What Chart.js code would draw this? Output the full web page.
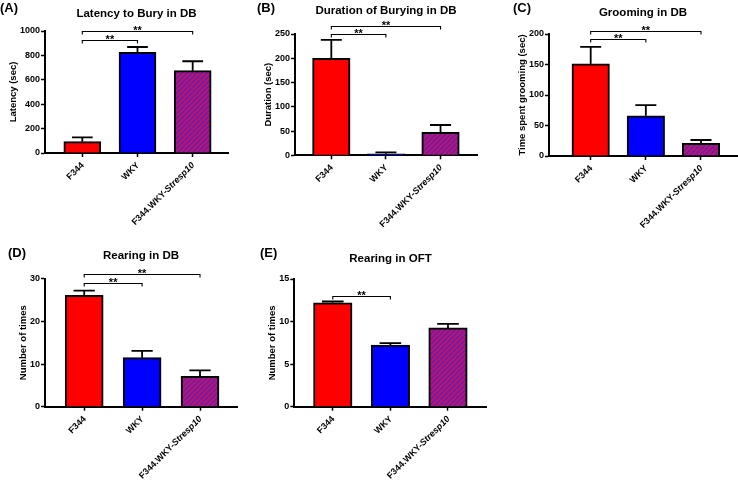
<!DOCTYPE html>
<html><head><meta charset="utf-8">
<script src="https://cdn.jsdelivr.net/npm/chart.js@4/dist/chart.umd.min.js"></script>
<style>
html,body{margin:0;padding:0;background:#fff;}
#wrap{position:relative;width:738px;height:483px;overflow:hidden;background:#fff;}
canvas{position:absolute;left:0;top:0;}
</style></head><body>
<div id="wrap">
<canvas id="cA" width="738" height="483"></canvas>
<canvas id="cB" width="738" height="483"></canvas>
<canvas id="cC" width="738" height="483"></canvas>
<canvas id="cD" width="738" height="483"></canvas>
<canvas id="cE" width="738" height="483"></canvas>
</div>
<script>
// ---------- data ----------
const categories = ['F344', 'WKY', 'F344.WKY-Stresp10'];

const latencyMean = [93, 825, 675];
const latencySem = [35, 44, 77];
const latencyTicks = [0, 200, 400, 600, 800, 1000];
const latencySig = [[0, 1, 925], [0, 2, 1000]];

const durationMean = [200, 3, 47.5];
const durationSem = [38, 3, 15];
const durationTicks = [0, 50, 100, 150, 200, 250];
const durationSig = [[0, 1, 249], [0, 2, 266]];

const groomingMean = [151, 66, 20.8];
const groomingSem = [28, 17.5, 5.4];
const groomingTicks = [0, 50, 100, 150, 200];
const groomingSig = [[0, 1, 191], [0, 2, 205]];

const rearingDBMean = [26.1, 11.5, 7.1];
const rearingDBSem = [1.1, 1.6, 1.4];
const rearingDBTicks = [0, 10, 20, 30];
const rearingDBSig = [[0, 1, 28.9], [0, 2, 31]];

const rearingOFTMean = [12.2, 7.25, 9.25];
const rearingOFTSem = [0.16, 0.22, 0.47];
const rearingOFTTicks = [0, 5, 10, 15];
const rearingOFTSig = [[0, 1, 13.0]];

// ---------- styling / layout ----------
const FONT = "'Liberation Sans', Arial, Helvetica, sans-serif";
const RED = '#ff0000', BLUE = '#0000ff';

function hatchPattern(ctx) {
  const c = document.createElement('canvas');
  c.width = 5; c.height = 5;
  const g = c.getContext('2d');
  g.fillStyle = '#d0105c';
  g.fillRect(0, 0, 5, 5);
  g.strokeStyle = '#5c22b8';
  g.lineWidth = 1.7;
  g.beginPath();
  g.moveTo(-1, 6); g.lineTo(6, -1);
  g.moveTo(-1, 1); g.lineTo(1, -1);
  g.moveTo(4, 6); g.lineTo(6, 4);
  g.stroke();
  return ctx.createPattern(c, 'repeat');
}

const Y_WIDTH = 40, X_HEIGHT = 10;

function drawPanel(id, p) {
  const canvas = document.getElementById(id);
  const ctx = canvas.getContext('2d');
  const decor = {
    id: 'decor_' + id,
    afterDraw(chart) {
      const c = chart.ctx, xs = chart.scales.x, ys = chart.scales.y, ca = chart.chartArea;
      c.save();
      // error bars (upper SEM)
      c.strokeStyle = '#000';
      c.lineWidth = 1.8;
      const capW = p.barW * 0.56;
      p.mean.forEach((m, i) => {
        const x = xs.getPixelForValue(i);
        const yb = ys.getPixelForValue(m);
        const yt = ys.getPixelForValue(m + p.sem[i]);
        c.beginPath();
        c.moveTo(x, yb); c.lineTo(x, yt);
        c.moveTo(x - capW / 2, yt); c.lineTo(x + capW / 2, yt);
        c.stroke();
      });
      // significance brackets
      c.lineWidth = 1.1;
      c.fillStyle = '#000';
      c.font = 'bold 11px ' + FONT;
      c.textAlign = 'center';
      c.textBaseline = 'alphabetic';
      p.sig.forEach(([a, b, lvl]) => {
        const xa = xs.getPixelForValue(a), xb = xs.getPixelForValue(b);
        const y = Math.round(ys.getPixelForValue(lvl)) + 0.5;
        c.beginPath();
        c.moveTo(xa, y + 3); c.lineTo(xa, y); c.lineTo(xb, y); c.lineTo(xb, y + 3);
        c.stroke();
        c.fillText('**', (xa + xb) / 2, y + 2);
      });
      // x category labels, rotated 45deg, italic gene name
      c.textAlign = 'right';
      c.textBaseline = 'middle';
      categories.forEach((lab, i) => {
        const x = xs.getPixelForValue(i);
        c.save();
        c.translate(x + 0.5, ca.bottom + 11);
        c.rotate(-Math.PI / 4);
        const m = lab.match(/^(.*-)(Stresp10)$/);
        if (m) {
          c.font = 'italic bold 9px ' + FONT;
          c.fillText(m[2], 0, 0);
          const w = c.measureText(m[2]).width;
          c.font = 'bold 9px ' + FONT;
          c.fillText(m[1], -w, 0);
        } else {
          c.font = 'bold 9px ' + FONT;
          c.fillText(lab, 0, 0);
        }
        c.restore();
      });
      // y title
      c.font = 'bold 9px ' + FONT;
      let maxW = 0;
      p.ticks.forEach(t => { maxW = Math.max(maxW, c.measureText(String(t)).width); });
      const tx = ca.left - 5 - maxW - 7;
      c.save();
      c.translate(tx, (ca.top + ca.bottom) / 2);
      c.rotate(-Math.PI / 2);
      c.textAlign = 'center';
      c.textBaseline = 'middle';
      c.font = 'bold 9.5px ' + FONT;
      c.fillText(p.yTitle, 0, 0);
      c.restore();
      // title
      c.font = 'bold 11.5px ' + FONT;
      c.textAlign = 'center';
      c.textBaseline = 'middle';
      c.fillText(p.title, (ca.left + ca.right) / 2, p.titleY);
      // panel letter
      c.font = 'bold 13px ' + FONT;
      c.textAlign = 'left';
      c.fillText(p.letter, p.letterX, p.letterY);
      c.restore();
    }
  };
  new Chart(ctx, {
    type: 'bar',
    data: {
      datasets: [{
        data: p.mean.map((v, i) => ({ x: i, y: v })),
        backgroundColor: [RED, BLUE, hatchPattern(ctx)],
        borderColor: '#000',
        borderWidth: 2,
        barThickness: p.barW
      }]
    },
    options: {
      responsive: false,
      animation: false,
      events: [],
      layout: { padding: {
        left: p.axisX - Y_WIDTH,
        right: 738 - p.axisRight,
        top: p.top,
        bottom: 483 - p.zero - X_HEIGHT
      } },
      plugins: { legend: { display: false }, tooltip: { enabled: false }, title: { display: false } },
      scales: {
        x: {
          type: 'linear', min: p.xmin, max: p.xmax, offset: false,
          afterBuildTicks: s => { s.ticks = categories.map((c, i) => ({ value: i })); },
          afterFit: s => { s.height = X_HEIGHT; },
          ticks: { display: true, autoSkip: false, callback: () => '', font: { size: 1 } },
          grid: { offset: false, drawOnChartArea: false, drawTicks: true, tickLength: 4, tickWidth: 1.5, tickColor: '#000' },
          border: { display: true, color: '#000', width: 2 }
        },
        y: {
          min: 0, max: p.ticks[p.ticks.length - 1],
          afterBuildTicks: s => { s.ticks = p.ticks.map(v => ({ value: v })); },
          afterFit: s => { s.width = Y_WIDTH; },
          ticks: { color: '#000', padding: 1, font: { family: FONT, weight: 'bold', size: 9 }, callback: v => String(v) },
          grid: { drawOnChartArea: false, drawTicks: true, tickLength: 4, tickWidth: 1.5, tickColor: '#000' },
          border: { display: true, color: '#000', width: 2 }
        }
      }
    },
    plugins: [decor]
  });
}

drawPanel('cA', { mean: latencyMean, sem: latencySem, ticks: latencyTicks, sig: latencySig,
  title: 'Latency to Bury in DB', yTitle: 'Latency (sec)', letter: '(A)',
  axisX: 45, axisRight: 228, top: 31, zero: 153, xmin: -0.676, xmax: 2.64, barW: 37,
  titleY: 14, letterX: 0, letterY: 8 });
drawPanel('cB', { mean: durationMean, sem: durationSem, ticks: durationTicks, sig: durationSig,
  title: 'Duration of Burying in DB', yTitle: 'Duration (sec)', letter: '(B)',
  axisX: 295, axisRight: 477, top: 34, zero: 155.3, xmin: -0.665, xmax: 2.668, barW: 37.5,
  titleY: 10.5, letterX: 257, letterY: 8 });
drawPanel('cC', { mean: groomingMean, sem: groomingSem, ticks: groomingTicks, sig: groomingSig,
  title: 'Grooming in DB', yTitle: 'Time spent grooming (sec)', letter: '(C)',
  axisX: 549, axisRight: 737, top: 34, zero: 156, xmin: -0.756, xmax: 2.653, barW: 37.5,
  titleY: 13.3, letterX: 513, letterY: 8 });
drawPanel('cD', { mean: rearingDBMean, sem: rearingDBSem, ticks: rearingDBTicks, sig: rearingDBSig,
  title: 'Rearing in DB', yTitle: 'Number of times', letter: '(D)',
  axisX: 45, axisRight: 237, top: 278.7, zero: 406.7, xmin: -0.677, xmax: 2.639, barW: 38,
  titleY: 255.7, letterX: 8, letterY: 253 });
drawPanel('cE', { mean: rearingOFTMean, sem: rearingOFTSem, ticks: rearingOFTTicks, sig: rearingOFTSig,
  title: 'Rearing in OFT', yTitle: 'Number of times', letter: '(E)',
  axisX: 294.3, axisRight: 486.7, top: 279, zero: 406.7, xmin: -0.668, xmax: 2.672, barW: 38.5,
  titleY: 259, letterX: 260, letterY: 253 });
</script>
</body></html>
